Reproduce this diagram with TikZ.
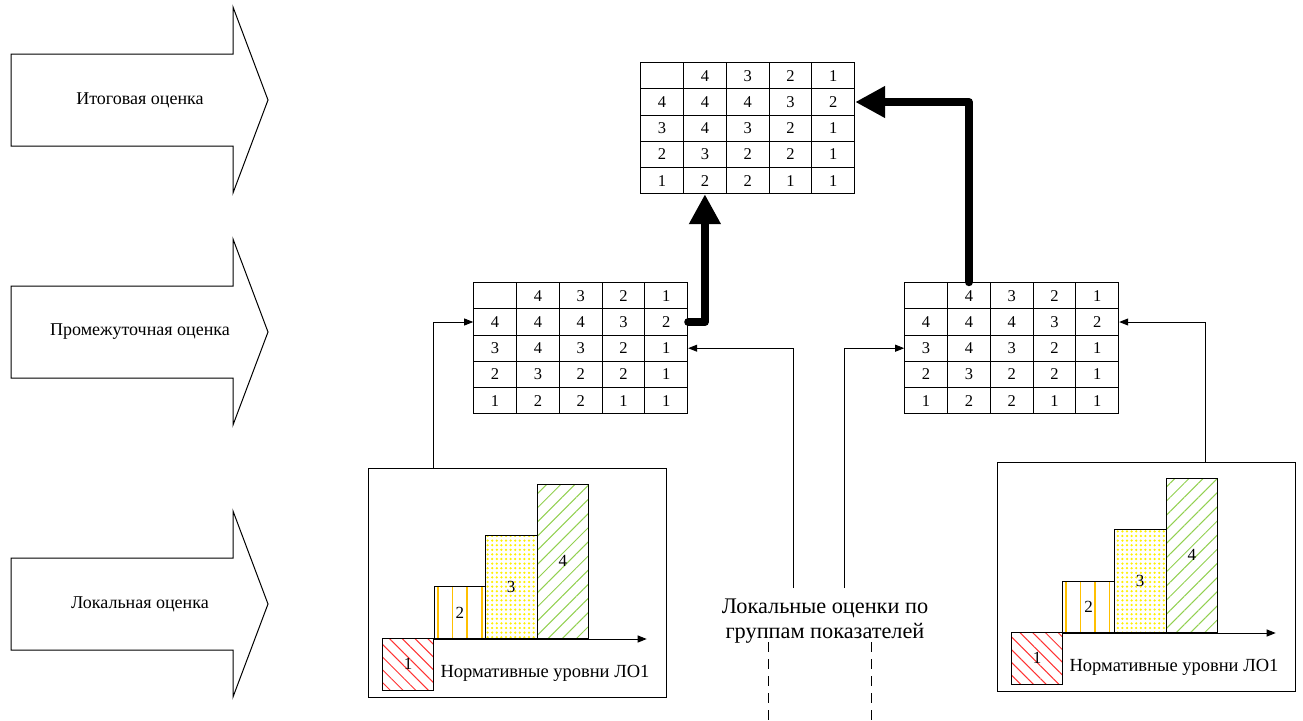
\documentclass[tikz,border=0pt]{standalone}
\usepackage{fontspec}
\setmainfont{Liberation Serif}
\usetikzlibrary{arrows.meta,patterns.meta,matrix}

\definecolor{hatchred}{RGB}{255,50,50}
\definecolor{hatchorange}{RGB}{255,192,0}
\definecolor{hatchyellow}{RGB}{255,240,0}
\definecolor{hatchgreen}{RGB}{146,208,80}

\tikzset{
  stageshape/.style={draw, line width=1pt, fill=white, line join=miter},
  stagelabel/.style={font=\fontsize{18}{20}\selectfont, inner sep=0pt},
  gradetable/.style={matrix of nodes, nodes in empty cells, ampersand replacement=\&,
    anchor=north west, inner sep=0pt, column sep=-1pt, row sep=-1pt,
    nodes={draw, line width=1pt, anchor=center, minimum width=42.8pt, minimum height=26.2pt,
      inner sep=0pt, font=\fontsize{16.5}{16.5}\selectfont}},
  chartbox/.style={draw, line width=1pt, anchor=north west, inner sep=0pt,
    minimum width=298pt, minimum height=229pt},
  bar/.style={draw, line width=1pt, anchor=south west, inner sep=0pt,
    minimum width=51.6pt, font=\fontsize{17}{17}\selectfont},
  level1/.style={bar, minimum height=51.5pt,
    pattern={Lines[angle=-45,distance=9pt,line width=1pt]}, pattern color=hatchred},
  level2/.style={bar, minimum height=51.5pt,
    pattern={Lines[angle=90,distance=14.6pt,line width=1.6pt]}, pattern color=hatchorange},
  level3/.style={bar, minimum height=103pt,
    pattern={Dots[distance=4.6pt,radius=1.25pt]}, pattern color=hatchyellow},
  level4/.style={bar, minimum height=154.5pt,
    pattern={Lines[angle=45,distance=10pt,line width=1pt]}, pattern color=hatchgreen},
  axisline/.style={line width=1pt, -{Triangle[length=9pt,width=7pt]}},
  charttext/.style={font=\fontsize{18.5}{18.5}\selectfont, inner sep=0pt},
  conn/.style={line width=0.8pt, -{Triangle[length=9pt,width=7pt]}},
  flow/.style={line width=8pt, line cap=round, line join=round,
    -{Triangle[length=30pt,width=30pt]}},
  guide/.style={line width=0.8pt, dash pattern=on 10pt off 7pt},
}

% One large stage arrow with its caption: name, centre y, caption
\newcommand\stagearrow[3]{%
  \draw[stageshape] (11,{#2-46}) -- (233,{#2-46}) -- (233,{#2-93}) -- (268,#2)
    -- (233,{#2+93}) -- (233,{#2+46}) -- (11,{#2+46}) -- cycle;
  \node[stagelabel] (#1) at (140,#2) {#3};
}

% Bar chart of the normative levels: name prefix, top-left corner of its frame
\newcommand\levelchart[2]{%
  \begin{scope}[shift={#2}]
    \node[chartbox] (#1-box) at (0,0) {};
    \node[level1] (#1-b1) at (13.7,222.5) {1};
    \node[level2] (#1-b2) at (65.3,171) {2};
    \node[level3] (#1-b3) at (116.9,171) {3};
    \node[level4] (#1-b4) at (168.5,171) {4};
    \coordinate (#1-axisend) at (278.7,171);
    \draw[axisline] (#1-b2.south west) -- (#1-axisend);
    \node[charttext] (#1-caption) at (177,205.5) {Нормативные уровни ЛО1};
  \end{scope}
}

\begin{document}
\begin{tikzpicture}[x=1pt,y=-1pt]
  \useasboundingbox (0,0) rectangle (1303,720);

  % stages of the assessment
  \stagearrow{stageFinal}{100}{Итоговая оценка}
  \stagearrow{stageMid}{332}{Промежуточная оценка}
  \stagearrow{stageLocal}{604}{Локальная оценка}

  % final assessment table
  \matrix[gradetable] (final) at (640,62) {
     \& 4 \& 3 \& 2 \& 1 \\
    4 \& 4 \& 4 \& 3 \& 2 \\
    3 \& 4 \& 3 \& 2 \& 1 \\
    2 \& 3 \& 2 \& 2 \& 1 \\
    1 \& 2 \& 2 \& 1 \& 1 \\
  };

  % intermediate assessment tables
  \matrix[gradetable] (midL) at (473,282) {
     \& 4 \& 3 \& 2 \& 1 \\
    4 \& 4 \& 4 \& 3 \& 2 \\
    3 \& 4 \& 3 \& 2 \& 1 \\
    2 \& 3 \& 2 \& 2 \& 1 \\
    1 \& 2 \& 2 \& 1 \& 1 \\
  };
  \matrix[gradetable] (midR) at (904,282) {
     \& 4 \& 3 \& 2 \& 1 \\
    4 \& 4 \& 4 \& 3 \& 2 \\
    3 \& 4 \& 3 \& 2 \& 1 \\
    2 \& 3 \& 2 \& 2 \& 1 \\
    1 \& 2 \& 2 \& 1 \& 1 \\
  };

  % local assessment charts
  \levelchart{chartL}{(368,468)}
  \levelchart{chartR}{(997,462)}

  % local assessments by indicator groups
  \node[font=\fontsize{22.3}{25}\selectfont, align=center, inner sep=0pt] (groups)
    at (825,621) {Локальные оценки по\\группам показателей};
  \coordinate (srcA) at (793.5,588);
  \coordinate (srcB) at (844.5,588);
  \coordinate (guideAtop) at (768.3,642);
  \coordinate (guideAbot) at (768.3,720);
  \coordinate (guideBtop) at (871,642);
  \coordinate (guideBbot) at (871,720);
  \draw[guide] (guideAtop) -- (guideAbot);
  \draw[guide] (guideBtop) -- (guideBbot);

  % inputs of the intermediate tables
  \draw[conn] (chartL-b2.south west |- chartL-box.north) |- (midL-2-1.west);
  \draw[conn] (srcA) |- (midL-3-5.east);
  \draw[conn] (srcB) |- (midR-3-1.west);
  \coordinate (chartR-out) at ([xshift=208pt]chartR-box.north west);
  \draw[conn] (chartR-out) |- (midR-2-5.east);

  % aggregation into the final table
  \draw[flow] (midL-2-5.east) -| (final-5-2.south);
  \draw[flow] (midR-1-2.north) |- (final-2-5.east);
\end{tikzpicture}
\end{document}
